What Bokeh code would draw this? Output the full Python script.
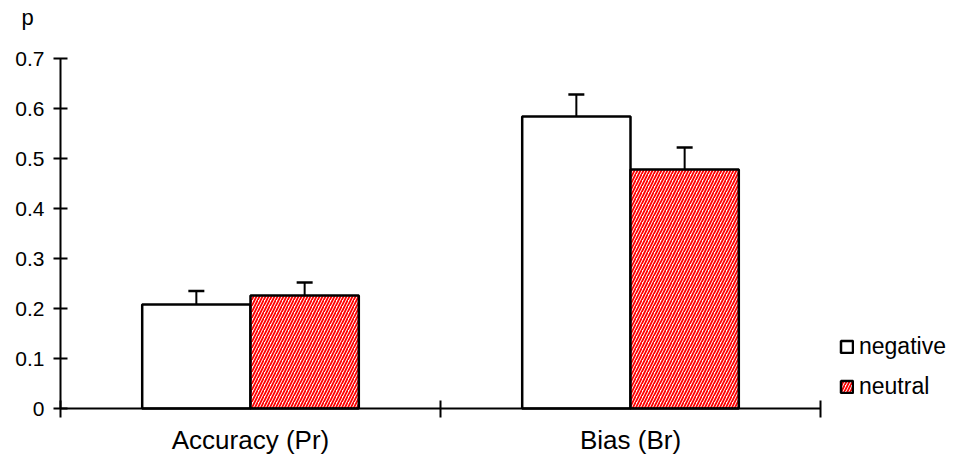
from bokeh.plotting import figure
from bokeh.models import (Range1d, FixedTicker, ColumnDataSource, Whisker, TeeHead,
                          Legend, LegendItem, Label, LinearAxis)
from bokeh.embed import file_html
from bokeh.resources import INLINE

categories = ["Accuracy (Pr)", "Bias (Br)"]
series = ["negative", "neutral"]
negative = [0.208, 0.584]
neutral = [0.226, 0.478]
negative_err = [0.027, 0.044]
neutral_err = [0.026, 0.044]
y_ticks = [0, 0.1, 0.2, 0.3, 0.4, 0.5, 0.6, 0.7]
y_tick_labels = ["0", "0.1", "0.2", "0.3", "0.4", "0.5", "0.6", "0.7"]
y_label = "p"

FONT = "Liberation Sans"
BAR_W = 0.285
W, H = 954, 466
# pixel layout of the plotting area inside the canvas
AX_LEFT, AX_RIGHT, AX_TOP, AX_BOTTOM = 60, 820, 58, 408
Y_MAX = y_ticks[-1]
n = len(categories)
xs = (AX_RIGHT - AX_LEFT) / n
ys = (AX_BOTTOM - AX_TOP) / Y_MAX

centers = [i + 0.5 for i in range(n)]
neg_x = [c - BAR_W / 2 for c in centers]
neu_x = [c + BAR_W / 2 for c in centers]

p = figure(width=W, height=H, output_backend="svg", toolbar_location=None,
           x_range=Range1d(-AX_LEFT / xs, (W - AX_LEFT) / xs),
           y_range=Range1d(-(H - AX_BOTTOM) / ys, Y_MAX + AX_TOP / ys),
           x_axis_location=None, y_axis_location=None, min_border=0)
p.outline_line_color = None
p.grid.visible = False
p.background_fill_color = "white"
p.border_fill_color = "white"

src_neg = ColumnDataSource(dict(x=neg_x, top=negative,
                                upper=[v + e for v, e in zip(negative, negative_err)]))
src_neu = ColumnDataSource(dict(x=neu_x, top=neutral,
                                upper=[v + e for v, e in zip(neutral, neutral_err)]))

r_neg = p.vbar(x="x", top="top", bottom=0, width=BAR_W, source=src_neg,
               fill_color="white", line_color="black", line_width=2.5)
r_neu = p.vbar(x="x", top="top", bottom=0, width=BAR_W, source=src_neu,
               fill_color="white", line_color="black", line_width=2.5,
               hatch_pattern="right_diagonal_line", hatch_color="#ff0000",
               hatch_scale=6, hatch_weight=1.8)

for src in (src_neg, src_neu):
    w = Whisker(base="x", lower="top", upper="upper", source=src,
                line_color="black", line_width=2,
                upper_head=TeeHead(size=16, line_color="black", line_width=2.5),
                lower_head=None)
    p.add_layout(w)

# x axis
xa = LinearAxis(fixed_location=0, bounds=(0, n))
xa.ticker = FixedTicker(ticks=centers, minor_ticks=list(range(n + 1)))
xa.major_label_overrides = {c: lab for c, lab in zip(centers, categories)}
xa.major_tick_in = 0
xa.major_tick_out = 0
xa.minor_tick_in = 8
xa.minor_tick_out = 9
xa.minor_tick_line_width = 2
xa.minor_tick_line_color = "black"
xa.axis_line_width = 2
xa.axis_line_color = "black"
xa.major_label_text_font = FONT
xa.major_label_text_font_size = "26px"
xa.major_label_text_color = "black"
xa.major_label_standoff = 7
p.add_layout(xa, "below")

ya = LinearAxis(fixed_location=0, bounds=(0, Y_MAX))
ya.ticker = FixedTicker(ticks=y_ticks, minor_ticks=[])
ya.major_label_overrides = {t: lab for t, lab in zip(y_ticks, y_tick_labels)}
ya.major_tick_in = 7
ya.major_tick_out = 7
ya.major_tick_line_width = 2
ya.major_tick_line_color = "black"
ya.minor_tick_line_color = None
ya.axis_line_width = 2
ya.axis_line_color = "black"
ya.major_label_text_font = FONT
ya.major_label_text_font_size = "21px"
ya.major_label_text_color = "black"
ya.major_label_standoff = 9
p.add_layout(ya, "left")

p.add_layout(Label(x=27, y=H - 17, x_units="screen", y_units="screen", text=y_label,
                   text_font=FONT, text_font_size="22px", text_color="black",
                   text_align="center", text_baseline="middle"))

legend = Legend(items=[LegendItem(label=series[0], renderers=[r_neg]),
                       LegendItem(label=series[1], renderers=[r_neu])],
                location=(839, H - 400), orientation="vertical",
                label_text_font=FONT, label_text_font_size="23px",
                label_text_color="black", glyph_width=15, glyph_height=15,
                label_standoff=5, spacing=13, padding=0, margin=0,
                border_line_color=None, background_fill_alpha=0)
p.add_layout(legend, "center")

open("out.html", "w").write(file_html(p, INLINE))
